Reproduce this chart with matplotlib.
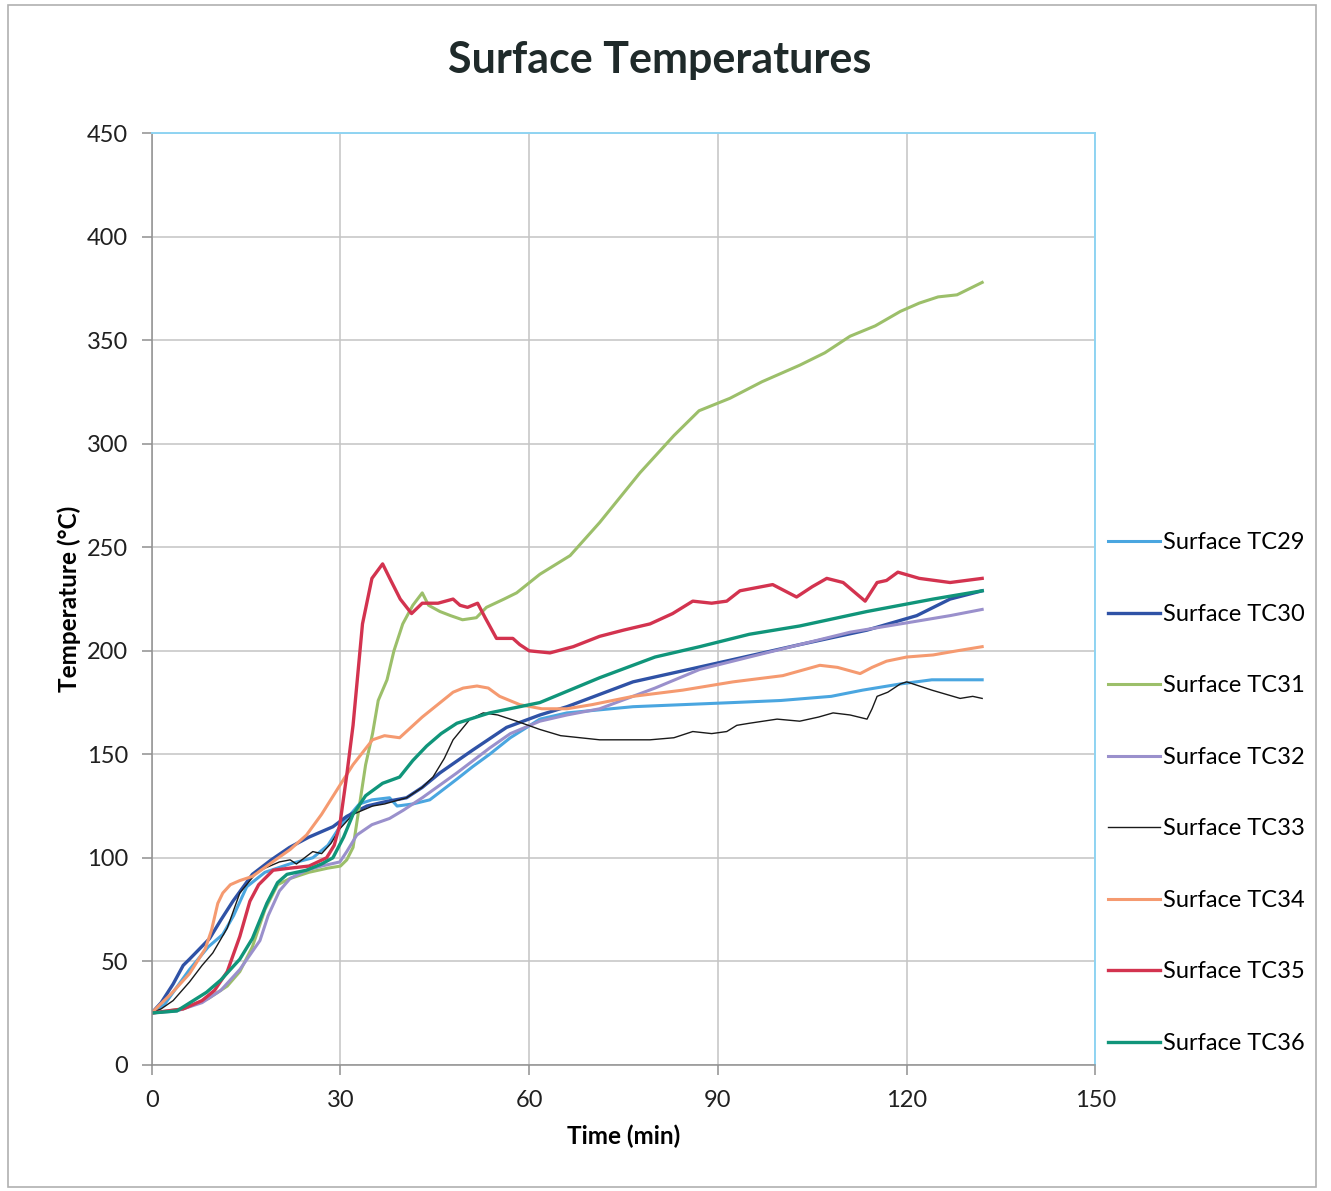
import matplotlib
matplotlib.use('Agg')
import matplotlib.pyplot as plt
from matplotlib.patches import Rectangle

plt.rcParams['font.family'] = ['Lato', 'DejaVu Sans']

# readings taken off the scanned chart: (time in min, temperature in C)
tc29_t = [0, 2, 3.4, 6, 9, 11.3, 13, 15.1, 18, 21.9, 25.6, 28, 29.9, 33, 35, 37.8, 39, 41.5, 44.2,
          48.5, 51, 53.7, 57, 61.7, 66, 76.5, 92.4, 100, 108, 113, 119, 124, 132]
tc29_v = [25, 29, 35, 46, 57, 63, 72, 86, 93, 97, 100, 106, 115, 126, 128, 129, 125, 126, 128,
          138, 144, 150, 158, 167, 170, 173, 175, 176, 178, 181, 184, 186, 186]

tc30_t = [0, 1.5, 3.4, 5, 6, 9.2, 11, 12.9, 16, 19, 21.9, 25, 28.8, 31, 34.2, 37, 40.5, 43, 45.8,
          51, 56.4, 61.7, 66, 76.5, 89.8, 103, 113.7, 121.6, 126.9, 132]
tc30_v = [25, 30, 39, 48, 51, 61, 70, 79, 92, 99, 105, 110, 115, 120, 125, 127, 129, 134, 141,
          152, 163, 169, 173, 185, 194, 203, 210, 217, 225, 229]

tc31_t = [0, 5, 9, 12, 14, 16, 18, 20, 22, 25, 28, 30, 31, 32, 33, 34, 35.1, 36, 37.4, 38.5, 39.9,
          41.5, 43, 44, 45.8, 47.5, 49.4, 51.6, 53.2, 56, 58, 61.7, 66.5, 71.2, 77.6, 83, 87, 91.9,
          97, 103, 107, 111, 115, 119, 122, 125, 128, 132]
tc31_v = [25, 27, 32, 38, 45, 57, 75, 87, 90, 93, 95, 96, 99, 105, 125, 145, 160, 176, 186, 200, 213,
          222, 228, 222, 219, 217, 215, 216, 221, 225, 228, 237, 246, 262, 286, 304, 316, 322,
          330, 338, 344, 352, 357, 364, 368, 371, 372, 378]

tc32_t = [0, 4, 8, 11, 14, 17.2, 18.5, 20.3, 22, 24.6, 27, 29.9, 31, 32.6, 35, 37.8, 40, 43, 48.5,
          53.7, 57, 61.7, 66, 71.2, 80, 87.1, 95, 103, 111, 119, 126.9, 132]
tc32_v = [25, 26, 30, 36, 46, 60, 72, 84, 90, 94, 96, 98, 103, 111, 116, 119, 123, 129, 141,
          153, 160, 166, 169, 172, 182, 191, 197, 203, 209, 213, 217, 220]

tc33_t = [0, 1.5, 3.4, 6, 8, 9.7, 12, 14, 16.7, 18, 20.3, 22, 23, 25.6, 27, 28.5, 29.9, 32, 35.1,
          37, 40.5, 43, 44.7, 46.5, 47.9, 50.6, 52.7, 55, 58, 61.7, 65, 71.2, 79.2, 83, 86, 89,
          91.4, 93, 95, 99.4, 103, 106, 108.3, 111, 113.7, 114.5, 115.3, 117, 119, 120, 122, 124,
          128.5, 130.5, 132]
tc33_v = [25, 27, 31, 40, 48, 54, 66, 83, 93, 95, 98, 99, 97, 103, 102, 107, 114, 121, 125,
          126, 129, 134, 139, 148, 157, 167, 170, 169, 166, 162, 159, 157, 157, 158, 161, 160,
          161, 164, 165, 167, 166, 168, 170, 169, 167, 172, 178, 180, 184, 185, 183, 181,
          177, 178, 177]

tc34_t = [0, 1.3, 3, 6, 8.5, 9.5, 10.5, 11.3, 12.5, 14, 16, 19.2, 22, 24.6, 27, 29.9, 32, 35.1, 37,
          39.4, 43, 47.9, 49.5, 51.7, 53.5, 55.3, 58.5, 62, 66, 70, 76.5, 84.4, 92.4, 100.3, 106.2,
          109, 112.6, 114.5, 116.8, 120, 124.2, 128, 132]
tc34_v = [25, 29, 34, 44, 56, 65, 78, 83, 87, 89, 91, 98, 104, 111, 121, 135, 145, 157, 159,
          158, 168, 180, 182, 183, 182, 178, 174, 172, 172, 174, 178, 181, 185, 188, 193,
          192, 189, 192, 195, 197, 198, 200, 202]

tc35_t = [0, 5, 8, 10, 12, 14, 15.6, 17, 19.3, 22, 25, 27.8, 29, 29.9, 31, 32, 33.5, 35, 36.7, 38,
          39.5, 41.3, 43, 45.5, 47.9, 49, 50.2, 51.8, 53, 54.8, 57.4, 58.5, 60, 63.3, 67, 71.2, 75,
          79.2, 82.8, 86, 89, 91.4, 93.5, 98.7, 102.5, 105, 107.3, 109.9, 113.4, 115.3, 116.8,
          118.6, 122, 126.9, 132]
tc35_v = [25, 27, 31, 36, 45, 62, 79, 87, 94, 95, 96, 100, 106, 116, 140, 164, 213, 235, 242, 234,
          225, 218, 223, 223, 225, 222, 221, 223, 216, 206, 206, 203, 200, 199, 202, 207, 210,
          213, 218, 224, 223, 224, 229, 232, 226, 231, 235, 233, 224, 233, 234,
          238, 235, 233, 235]

tc36_t = [0, 4, 8.7, 11, 14, 16, 18.3, 20, 21.5, 24.6, 27, 28.8, 30.5, 32, 34, 36.7, 39.4, 41.5,
          43.7, 46, 48.5, 53.7, 55.3, 61.7, 71.2, 80, 87.1, 95, 103, 113.7, 124.2, 132]
tc36_v = [25, 26, 35, 41, 51, 61, 78, 88, 92, 94, 97, 100, 110, 121, 130, 136, 139, 147,
          154, 160, 165, 170, 171, 175, 187, 197, 202, 208, 212, 219, 225, 229]

names = ['Surface TC29', 'Surface TC30', 'Surface TC31', 'Surface TC32',
         'Surface TC33', 'Surface TC34', 'Surface TC35', 'Surface TC36']

fig = plt.figure(figsize=(13.31, 11.91), dpi=100)
ax = fig.add_axes([0.114, 0.106, 0.709, 0.782])

ax.plot(tc29_t, tc29_v, color='#4aa6e0', lw=2.2, label=names[0])
ax.plot(tc30_t, tc30_v, color='#2f52a6', lw=2.4, label=names[1])
ax.plot(tc31_t, tc31_v, color='#9cbf6a', lw=2.2, label=names[2])
ax.plot(tc32_t, tc32_v, color='#9a90cc', lw=2.2, label=names[3])
ax.plot(tc33_t, tc33_v, color='#1a1a1a', lw=1.0, label=names[4])
ax.plot(tc34_t, tc34_v, color='#f59a70', lw=2.2, label=names[5])
ax.plot(tc35_t, tc35_v, color='#d3334f', lw=2.4, label=names[6])
ax.plot(tc36_t, tc36_v, color='#10957a', lw=2.4, label=names[7])

ax.set_xlim(0, 150)
ax.set_ylim(0, 450)
ax.set_xticks(range(0, 151, 30))
ax.set_yticks(range(0, 451, 50))
ax.grid(True, color='#c4c4c4', lw=1.1)
ax.set_axisbelow(True)
ax.tick_params(axis='both', labelsize=17, color='#909090', length=7, width=1.1, colors='#202020')
ax.tick_params(axis='x', pad=11)
ax.tick_params(axis='y', pad=10)
for s in ['left', 'bottom']:
    ax.spines[s].set_color('#909090')
    ax.spines[s].set_linewidth(1.1)
for s in ['top', 'right']:
    ax.spines[s].set_color('#8fd4f2')
    ax.spines[s].set_linewidth(1.4)

ax.set_xlabel('Time (min)', fontsize=17.5, fontweight='bold', labelpad=10)
ax.set_ylabel('Temperature (\u00b0C)', fontsize=17.5, fontweight='bold', labelpad=4)
fig.suptitle('Surface Temperatures', x=0.496, y=0.966, fontsize=31, fontweight='bold', color='#1f2a2a')

fig.legend(loc='upper left', bbox_to_anchor=(0.8255, 0.561), frameon=False, fontsize=17,
           handlelength=2.2, handletextpad=0.12, labelspacing=2.14, borderaxespad=0)

# border round the whole scanned chart
fig.patches.append(Rectangle((0.006, 0.003), 0.983, 0.993, transform=fig.transFigure,
                             fill=False, edgecolor='#b0b0b0', lw=1.2))

fig.savefig('out.png', dpi=100)
